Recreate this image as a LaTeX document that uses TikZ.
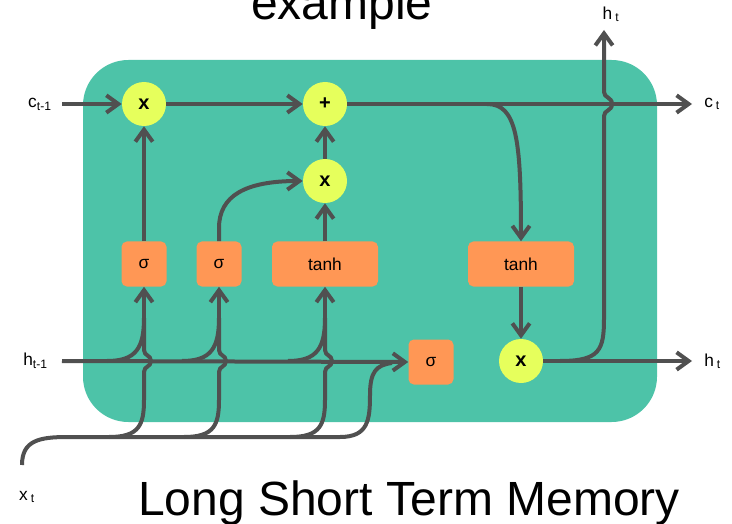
\documentclass[tikz,border=0pt]{standalone}
\usepackage{fontspec}
\setmainfont{Liberation Sans}
\usetikzlibrary{arrows.meta}
\definecolor{cellgreen}{RGB}{77,195,168}
\definecolor{opyellow}{RGB}{230,255,92}
\definecolor{gateorange}{RGB}{255,151,85}
\definecolor{wiregray}{RGB}{80,80,80}
\begin{document}
\begin{tikzpicture}[x=0.75pt,y=-0.75pt,
    wire/.style={line width=3pt,draw=wiregray},
    arr/.style={wire,-{Straight Barb[length=9pt,width=13pt]}},
    op/.style={circle,fill=opyellow,minimum size=33pt,inner sep=0pt,
               font=\bfseries\fontsize{15}{15}\selectfont},
    gate/.style={rectangle,rounded corners=4pt,fill=gateorange,
                 minimum width=33.75pt,minimum height=33.75pt,inner sep=0pt,
                 font=\fontsize{13}{13}\selectfont},
    wide/.style={minimum width=79.5pt},
    lbl/.style={inner sep=0pt,font=\fontsize{13}{13}\selectfont}]
  \useasboundingbox (0,0) rectangle (732,524);
  \fill[cellgreen,rounded corners=34pt] (83,60) rectangle (657,422);

  % operations and gates
  \node[op] (fx)  at (144,104) {x};
  \node[op] (add) at (325,104) {+};
  \node[op] (ix)  at (325,181) {x};
  \node[op] (ox)  at (521,361) {x};
  \node[gate] (fg) at (144,264) {σ};
  \node[gate] (ig) at (219,264) {σ};
  \node[gate,wide] (cg) at (325,264) {tanh};
  \node[gate,wide] (ct) at (521,264) {tanh};
  \node[gate] (og) at (431,362) {σ};

  % outside labels
  \node[lbl,anchor=east] (cin) at (52,104) {c\textsubscript{t-1}};
  \node[lbl,anchor=east] (hin) at (48,361) {h\textsubscript{t-1}};
  \node[lbl,anchor=west] (cout) at (704,104) {c\,\textsubscript{t}};
  \node[lbl,anchor=west] (hout) at (704,361) {h\,\textsubscript{t}};
  \node[lbl] (htop) at (611,14) {h\,\textsubscript{t}};
  \node[lbl] (xin) at (27,497) {x\,\textsubscript{t}};
  \coordinate (cstart) at (62,104);
  \coordinate (hstart) at (62,361);
  \coordinate (xstart) at (22,465);
  \coordinate (xjoin) at (392,363);
  \coordinate (cend) at (692,104);
  \coordinate (hend) at (692,361);
  \coordinate (hup) at (604,30);
  \coordinate (csplit) at (487,104);

  % cell state
  \draw[arr] (cstart) -- (fx);
  \draw[arr] (fx) -- (add);
  \draw[arr] (add) -- (cend);
  \draw[arr] (csplit) .. controls (517,104) and (521,140) .. (ct.north);
  \draw[arr] (ct) -- (ox);
  \draw[arr] (fg) -- (fx);
  \draw[arr] (ig.north) -- (219,228) .. controls (219,196) and (245,181) .. (ix.west);
  \draw[arr] (cg) -- (ix);
  \draw[arr] (ix) -- (add);

  % hidden state out
  \draw[arr] (ox) -- (hend);
  \draw[arr] (560,361) .. controls (600,361) and (604,350) .. (604,318)
    -- (604,116) .. controls (604,110) and (612,111) .. (612,104)
    .. controls (612,97) and (604,98) .. (604,92) -- (hup);

  % inputs into the gates
  \foreach \g/\gx in {fg/144,ig/219,cg/325} {
    \draw[wire] (\gx-37,361) .. controls (\gx-8,361) and (\gx,348) .. (\gx,318);
    \draw[wire] (\gx-35,437) .. controls (\gx-5,437) and (\gx,425) .. (\gx,400)
      -- (\gx,372) .. controls (\gx,366) and (\gx+7,367) .. (\gx+7,361)
      .. controls (\gx+7,355) and (\gx,356) .. (\gx,350) -- (\gx,318);
    \draw[arr] (\gx,320) -- (\g.south);
  }
  \draw[wire] (xstart) .. controls (22,440) and (40,437) .. (68,437) -- (340,437)
    .. controls (368,437) and (370,420) .. (370,395)
    .. controls (370,372) and (376,365) .. (xjoin);
  \draw[arr] (hstart) -- (og.west);

  \node[anchor=base,font=\fontsize{36}{36}\selectfont] (title) at (342,20) {example};
  \node[anchor=base,font=\fontsize{36}{36}\selectfont] (caption) at (409,515) {Long Short Term Memory};
\end{tikzpicture}
\end{document}
